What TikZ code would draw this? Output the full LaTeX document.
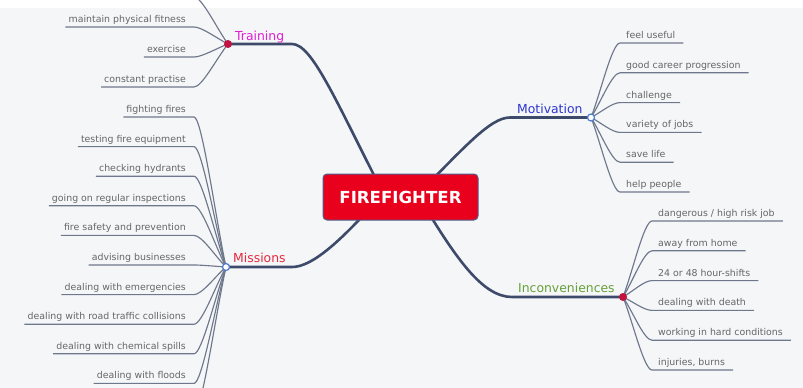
\documentclass[tikz,border=0pt]{standalone}
\usepackage{fontspec}
\setmainfont{DejaVu Sans}
\usetikzlibrary{calc}
\definecolor{bgc}{HTML}{F5F6F8}
\definecolor{mainln}{HTML}{3D4A69}
\definecolor{leafln}{HTML}{6E788C}
\definecolor{leaftxt}{HTML}{666666}
\definecolor{boxred}{HTML}{E9001D}
\definecolor{boxedge}{HTML}{4F5E8E}
\definecolor{trainc}{HTML}{E01ED2}
\definecolor{missc}{HTML}{E42A3E}
\definecolor{motc}{HTML}{2F35D0}
\definecolor{incc}{HTML}{66A03A}
\definecolor{dotred}{HTML}{C2123F}
\definecolor{dotblue}{HTML}{4C7BD0}
\tikzset{
 leaf/.style={inner sep=0pt, text=leaftxt, font=\fontsize{9.4}{11}\selectfont},
 leafline/.style={draw=leafln, line width=1.15pt},
 mainline/.style={draw=mainln, line width=2.6pt},
 branch/.style={inner sep=0pt, font=\fontsize{12.4}{14}\selectfont},
 reddot/.style={circle, fill=dotred, minimum size=8pt, inner sep=0pt},
 bluedot/.style={circle, fill=white, draw=dotblue, line width=1.2pt, minimum size=7pt, inner sep=0pt},
 centerbox/.style={rectangle, rounded corners=4pt, fill=boxred, draw=boxedge, line width=1pt, minimum width=155pt, minimum height=46pt, text=white, font=\bfseries\fontsize{16.6}{18}\selectfont},
}
\newcommand\lleaf[4]{%
 \node[leaf, anchor=base east] (#1) at (186,{#3-4.5}) {#4};
 \coordinate (#1u) at (194,#3);
 \draw[leafline] (#2) .. controls ($(#2)!0.33!(#1u)$) and ($(#1u)+(8,0)$) .. (#1u) -- ($(#1.west |- #1u)+(-3,0)$);
}
\newcommand\rleaf[5]{%
 \node[leaf, anchor=base west] (#1) at (#5,{#3-4.5}) {#4};
 \coordinate (#1u) at ({#5-6},#3);
 \draw[leafline] (#2) .. controls ($(#2)!0.33!(#1u)$) and ($(#1u)+(-8,0)$) .. (#1u) -- ($(#1.east |- #1u)+(8,0)$);
}
\begin{document}
\begin{tikzpicture}[x=1pt,y=-1pt]
\useasboundingbox (0,0) rectangle (803,388);
\clip (0,0) rectangle (803,388);
\fill[white] (0,0) rectangle (803,388);
\fill[bgc] (0,8) rectangle (803,388);
% dot centres
\coordinate (tr) at (228,44);
\coordinate (mi) at (226,267);
\coordinate (mo) at (591,117.5);
\coordinate (in) at (623,297);
% main connectors
\coordinate (ctr) at (385,197);
\coordinate (cmi) at (380,197);
\coordinate (cmo) at (415,197);
\coordinate (cin) at (419,197);
\coordinate (trj) at (292,44);
\coordinate (mij) at (292,267);
\coordinate (moj) at (510,117.5);
\coordinate (inj) at (512,297);
\draw[mainline] (ctr) .. controls (335,99) and (312,44) .. (trj) -- (tr);
\draw[mainline] (cmi) .. controls (340,242) and (312,267) .. (mij) -- (mi);
\draw[mainline] (cmo) .. controls (464,148) and (490,117.5) .. (moj) -- (mo);
\draw[mainline] (cin) .. controls (455,257) and (482,297) .. (inj) -- (in);
% centre
\node[centerbox] (fire) at (400.5,197) {FIREFIGHTER};
% branch labels
\node[branch, text=trainc, anchor=base west] (trl) at (235,40) {Training};
\node[branch, text=missc, anchor=base west] (mil) at (233,262.5) {Missions};
\node[branch, text=motc, anchor=base west] (mol) at (517,113) {Motivation};
\node[branch, text=incc, anchor=base west] (inl) at (518,292.3) {Inconveniences};
% training leaves
\coordinate (tr0u) at (194,-3);
\draw[leafline] (tr) .. controls ($(tr)!0.33!(tr0u)$) and ($(tr0u)+(8,0)$) .. (tr0u) -- (100,-3);
\lleaf{tr1}{tr}{27}{maintain physical fitness}
\lleaf{tr2}{tr}{57}{exercise}
\lleaf{tr3}{tr}{87}{constant practise}
% missions leaves
\lleaf{mi1}{mi}{117}{fighting fires}
\lleaf{mi2}{mi}{146.6}{testing fire equipment}
\lleaf{mi3}{mi}{176.2}{checking hydrants}
\lleaf{mi4}{mi}{205.8}{going on regular inspections}
\lleaf{mi5}{mi}{235.4}{fire safety and prevention}
\lleaf{mi6}{mi}{265}{advising businesses}
\lleaf{mi7}{mi}{294.6}{dealing with emergencies}
\lleaf{mi8}{mi}{324.2}{dealing with road traffic collisions}
\lleaf{mi9}{mi}{353.8}{dealing with chemical spills}
\lleaf{mi10}{mi}{383.4}{dealing with floods}
\coordinate (mi11u) at (194,413);
\draw[leafline] (mi) .. controls ($(mi)!0.33!(mi11u)$) and ($(mi11u)+(8,0)$) .. (mi11u) -- (100,413);
% motivation leaves
\rleaf{mo1}{mo}{43}{feel useful}{626}
\rleaf{mo2}{mo}{72.8}{good career progression}{626}
\rleaf{mo3}{mo}{102.6}{challenge}{626}
\rleaf{mo4}{mo}{132.4}{variety of jobs}{626}
\rleaf{mo5}{mo}{162.2}{save life}{626}
\rleaf{mo6}{mo}{192}{help people}{626}
% inconveniences leaves
\rleaf{in1}{in}{221}{dangerous / high risk job}{658}
\rleaf{in2}{in}{250.8}{away from home}{658}
\rleaf{in3}{in}{280.6}{24 or 48 hour-shifts}{658}
\rleaf{in4}{in}{310.4}{dealing with death}{658}
\rleaf{in5}{in}{340.2}{working in hard conditions}{658}
\rleaf{in6}{in}{370}{injuries, burns}{658}
% dots
\node[reddot] (trd) at (tr) {};
\node[bluedot] (mid) at (mi) {};
\node[bluedot] (mod) at (mo) {};
\node[reddot] (ind) at (in) {};
\end{tikzpicture}
\end{document}
